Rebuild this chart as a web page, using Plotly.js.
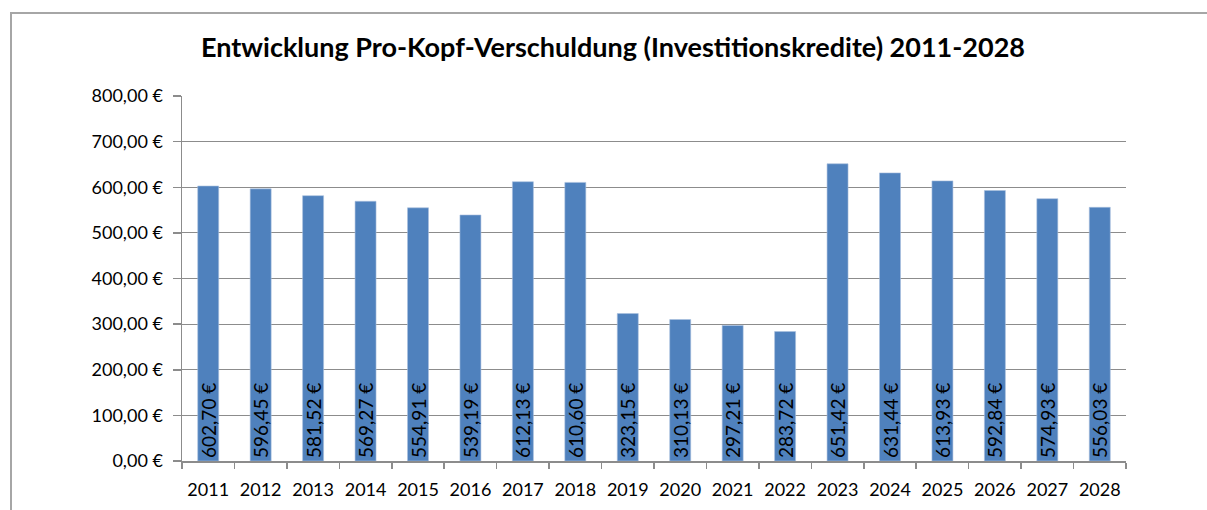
<!DOCTYPE html>
<html>
<head>
<meta charset="utf-8">
<script src="https://cdn.plot.ly/plotly-3.0.1.min.js"></script>
<style>
  html, body { margin: 0; padding: 0; background: #fff; overflow: hidden; }
  #wrap { position: relative; width: 1207px; height: 510px; }
  #chart { position: absolute; left: 0; top: 0; width: 1207px; height: 510px; }
  #frame { position: absolute; left: 10px; top: 12px; width: 1300px; height: 600px;
           border-left: 2px solid #a6a6a6; border-top: 2px solid #a6a6a6; pointer-events: none; }
</style>
</head>
<body>
<div id="wrap">
  <div id="chart"></div>
  <div id="frame"></div>
</div>
<script>
const years = ["2011","2012","2013","2014","2015","2016","2017","2018","2019",
               "2020","2021","2022","2023","2024","2025","2026","2027","2028"];
const values = [602.70, 596.45, 581.52, 569.27, 554.91, 539.19, 612.13, 610.60, 323.15,
                310.13, 297.21, 283.72, 651.42, 631.44, 613.93, 592.84, 574.93, 556.03];
const chartTitle = "Entwicklung Pro-Kopf-Verschuldung (Investitionskredite) 2011-2028";

const font = "Lato, 'Open Sans', sans-serif";

const trace = {
  type: "bar",
  x: years,
  y: values,
  marker: { color: "#4f81bd", line: { color: "#a9c0de", width: 0.6 } },
  texttemplate: "%{y:,.2f} €",
  textposition: "inside",
  insidetextanchor: "start",
  textangle: -90,
  constraintext: "none",
  textfont: { family: font, size: 19, color: "#000000" },
  hoverinfo: "skip"
};

const layout = {
  width: 1207, height: 510,
  margin: { l: 182, r: 81, t: 96, b: 49 },
  paper_bgcolor: "rgba(0,0,0,0)",
  plot_bgcolor: "rgba(0,0,0,0)",
  separators: ",.",
  bargap: 0.6,
  showlegend: false,
  title: {
    text: "<b>" + chartTitle + "</b>",
    font: { family: font, size: 27, color: "#000000" },
    x: 613 / 1207, xref: "container", xanchor: "center",
    y: 1 - 48 / 510, yref: "container", yanchor: "middle"
  },
  xaxis: {
    type: "category",
    showline: true, linecolor: "#8c8c8c", linewidth: 1.5,
    ticks: "outside", tickson: "boundaries", ticklen: 6, tickcolor: "#8c8c8c", tickwidth: 1.5,
    showgrid: false,
    ticklabelstandoff: 12,
    tickfont: { family: font, size: 18, color: "#000000" },
    automargin: false
  },
  yaxis: {
    range: [0, 800], dtick: 100, tick0: 0,
    tickformat: ",.2f", ticksuffix: " €",
    showline: true, linecolor: "#8c8c8c", linewidth: 1.5,
    ticks: "outside", ticklen: 8, tickcolor: "#8c8c8c", tickwidth: 1.5,
    showgrid: true, gridcolor: "#8c8c8c", gridwidth: 1.2,
    zeroline: false,
    ticklabelstandoff: 6,
    tickfont: { family: font, size: 18, color: "#000000" },
    automargin: false
  }
};

Plotly.newPlot("chart", [trace], layout, { displayModeBar: false, staticPlot: true });
</script>
</body>
</html>
